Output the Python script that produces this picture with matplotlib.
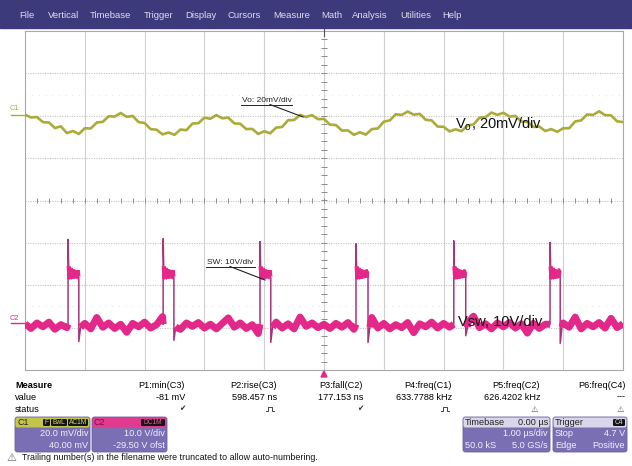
import numpy as np
import matplotlib
matplotlib.use('Agg')
import matplotlib.pyplot as plt
from matplotlib.patches import Rectangle, FancyBboxPatch, Polygon

plt.rcParams['font.family'] = ['Liberation Sans', 'DejaVu Sans']
plt.rcParams['mathtext.fontset'] = 'custom'
plt.rcParams['mathtext.rm'] = 'Liberation Sans'

W, H = 632, 466

# menu bar
menu_items = ['File', 'Vertical', 'Timebase', 'Trigger', 'Display', 'Cursors',
              'Measure', 'Math', 'Analysis', 'Utilities', 'Help']
menu_x = [19, 48, 90, 144, 185, 228, 273, 321, 352, 400, 442]

# sample times, us (1 us/div, 10 div)
t_us = np.round(np.arange(-5.0, 5.05, 0.1), 2)

# C1: output ripple Vo, mV relative to the C1 marker
vo_mv = [0.5, -0.8, -0.6, -3.0, -3.2, -5.8, -5.0, -8.2, -7.2,
         -8.6, -5.9, -6.0, -3.2, -2.9, -0.2, -0.4, 1.3,
         -0.5, -0.1, -3.0, -3.4, -6.3, -6.6, -8.8, -7.9,
         -9.0, -6.5, -6.8, -3.7, -3.5, -0.9, -1.4, 0.3,
         -1.2, -0.9, -3.6, -3.8, -6.3, -6.2, -8.6, -7.3,
         -8.3, -5.6, -5.3, -2.1, -2.0, 0.4, -0.6,
         0.3, -1.6, -1.5, -4.2, -4.4, -7.0, -6.9, -9.0, -7.8,
         -8.9, -6.3, -6.0, -2.8, -2.2, 0.7, 0.4, 2.0,
         0.5, 0.9, -1.9, -2.2, -5.1, -5.2, -7.4, -6.4,
         -7.3, -4.6, -4.1, -0.9, -0.7, 1.5, 0.4,
         1.4, -0.4, -0.1, -2.7, -2.8, -5.3, -5.1, -7.2, -6.3, -7.6,
         -5.9, -5.9, -2.7, -2.2, 0.6, 0.4, 2.1,
         0.3, 0.2, -2.6, -3.0]
vo_ref_div = 2.0
vo_mv_div = 20.0

# C2: switch node, volts
sw_base_v = [0.4, -0.7, 0.6, -0.3, 0.8, -0.9, 0.2, -0.5, 0.7, -0.2,
             0.5, -0.8, 1.9, -0.4, 0.6, -0.7, 0.3, -1.6, 0.5, -0.3,
             0.8, -0.6, 0.2, 2.1, -0.5, 0.4, -0.9, 0.6, -0.2, 0.7,
             -0.6, 0.3, -0.8, 0.5, 1.8, -0.4, 0.6, -0.7, 0.2, -1.9,
             0.5, -0.3, 0.8, -0.6, 0.4, -0.8, 2.0, -0.2, 0.6, -0.5,
             0.3, -0.7, 0.5, -0.4, 0.7, -0.9, 0.4, -0.3, 1.9, -0.6,
             0.5, -0.8, 0.2, -0.5, 0.7, -1.7, 0.4, -0.3, 0.8, -0.6,
             0.5, -0.4, 0.3, -0.7, 0.6, 2.2, -0.5, 0.4, -0.8, 0.6,
             -0.3, 0.7, -0.6, 0.4, -1.8, 0.5, -0.7, 0.3, 0.8, -0.5,
             0.6, -0.4, 2.0, -0.8, 0.5, -0.3, 0.7, -0.6, 1.7, -0.5,
             0.4]
sw_rise_us = [-4.28, -2.69, -1.07, 0.535, 2.17, 3.78]
sw_fall_us = [-4.10, -2.51, -0.89, 0.736, 2.37, 3.95]
sw_spike_v = [20.3, 20.5, 19.8, 19.3, 20.0, 19.6]
sw_under_v = [-3.8, -3.5, -4.0, -4.0, -2.4, -4.2]
ring_dt_us = [0.01, 0.025, 0.04, 0.055, 0.07, 0.085, 0.1, 0.115, 0.13, 0.145, 0.16, 0.175, 0.19]
ring_v = [14.0, 11.0, 13.6, 11.0, 13.2, 11.2, 13.1, 11.2, 13.0, 11.3, 13.0, 11.4, 12.8]
sw_ref_div = -2.95
sw_v_div = 10.0

# measurement table
meas_names = ['P1:min(C3)', 'P2:rise(C3)', 'P3:fall(C2)', 'P4:freq(C1)',
              'P5:freq(C2)', 'P6:freq(C4)']
meas_values = ['-81 mV', '598.457 ns', '177.153 ns', '633.7788 kHz',
               '626.4202 kHz', '---']
meas_status = ['check', 'pulse', 'check', 'pulse', 'warn', 'warn']
meas_right = [185, 277, 363, 452, 540, 626]

YEL = '#abab38'
PINK = '#e3288a'
EDGE = '#a8357a'
BOX = '#7b6fb4'

fig = plt.figure(figsize=(W / 100, H / 100), dpi=100, facecolor='white')

# ---- scope screen ----
ax = fig.add_axes([25 / W, (H - 370) / H, 598 / W, 339 / H], zorder=1)
ax.set_xlim(-5, 5)
ax.set_ylim(-4, 4)
ax.set_xticks([])
ax.set_yticks([])
for s in ax.spines.values():
    s.set_color('#a8a8a8')
    s.set_linewidth(0.8)
for x in range(-4, 5):
    ax.axvline(x, color='#d0d0d0', lw=0.8, zorder=0)
for y in range(-3, 4):
    ax.axhline(y, color='#c4c4c4', lw=0.8, ls=(0, (1, 1.2)), zorder=0)
for y in (2.5, -2.5):
    ax.axhline(y, color='#e6e6e6', lw=0.8, ls=(0, (1, 5)), zorder=0)
ax.vlines(np.arange(-5, 5.01, 0.2), -0.05, 0.05, color='#8c8c8c', lw=0.7, zorder=0)
ax.hlines(np.arange(-4, 4.01, 0.2), -0.05, 0.05, color='#8c8c8c', lw=0.7, zorder=0)

# C1 trace
ax.plot(t_us, vo_ref_div + np.array(vo_mv) / vo_mv_div, color=YEL, lw=1.9,
        zorder=3, solid_joinstyle='round')

# C2 trace: baseline samples with the pulses put in between
full_t, full_v, base_t, base_v, plat_t, plat_v = [], [], [], [], [], []
k = 0
for tb, vb in zip(t_us, sw_base_v):
    while k < len(sw_rise_us) and tb > sw_rise_us[k]:
        r, f = sw_rise_us[k], sw_fall_us[k]
        rt = [r + d for d in ring_dt_us if r + d < f]
        rv = ring_v[:len(rt)]
        full_t += [r, r] + rt + [f, f, f + 0.03]
        full_v += [0.3, sw_spike_v[k]] + rv + [rv[-1], sw_under_v[k], -0.4]
        base_t += [r, np.nan, f + 0.03]
        base_v += [0.3, np.nan, -0.4]
        plat_t += rt + [f, np.nan]
        plat_v += rv + [rv[-1], np.nan]
        k += 1
    if k > 0 and tb < sw_fall_us[k - 1] + 0.03:
        continue
    full_t.append(tb)
    full_v.append(vb)
    base_t.append(tb)
    base_v.append(vb)

ax.plot(full_t, sw_ref_div + np.array(full_v) / sw_v_div, color=EDGE, lw=1.1, zorder=3)
ax.plot(base_t, sw_ref_div + np.array(base_v) / sw_v_div, color=PINK, lw=5.0, zorder=4,
        solid_joinstyle='round', solid_capstyle='butt')
ax.plot(plat_t, sw_ref_div + np.array(plat_v) / sw_v_div, color=PINK, lw=3.0, zorder=4,
        solid_joinstyle='miter', solid_capstyle='butt')

# ---- everything else in pixel coordinates ----
px = fig.add_axes([0, 0, 1, 1], zorder=2)
px.set_xlim(0, W)
px.set_ylim(H, 0)
px.axis('off')
px.patch.set_alpha(0)

px.add_patch(Rectangle((0, 0), W, 28, color='#3c3a7a'))
for name, x in zip(menu_items, menu_x):
    px.text(x, 15, name, color='#dedcf2', fontsize=6.8, va='center')

# trigger position markers
px.plot([324, 324], [29, 36], color='#555555', lw=0.8)
px.add_patch(Polygon([(321, 377), (327, 377), (324, 371)], color=PINK))

# channel markers on the left
px.text(10, 109, 'C1', color=YEL, fontsize=5.3, va='center')
px.plot([11, 25], [115, 115], color=YEL, lw=1.0)
px.text(10, 318, 'C2', color=PINK, fontsize=5.3, va='center')
px.plot([11, 25], [323, 323], color=PINK, lw=1.0)

# small labels with leader lines
px.text(242, 100, 'Vo: 20mV/div', fontsize=6, color='#222222', va='center')
px.plot([241, 292], [104.5, 104.5], color='#222222', lw=0.7)
px.plot([270, 303], [104.5, 117], color='#222222', lw=0.8)
px.text(207, 262, 'SW: 10V/div', fontsize=6, color='#222222', va='center')
px.plot([206, 255], [266.5, 266.5], color='#222222', lw=0.7)
px.plot([230, 265], [266.5, 280], color='#222222', lw=0.8)

# large labels
px.text(455, 124, r'V$_{\rm o}$, 20mV/div', fontsize=10.5, color='#111111', va='center')
px.text(458, 322, 'Vsw, 10V/div', fontsize=10.5, color='#111111', va='center')

# measure table
px.text(15, 385, 'Measure', fontsize=6.6, fontweight='bold', va='center')
px.text(15, 397, 'value', fontsize=6.6, va='center')
px.text(15, 409, 'status', fontsize=6.6, va='center')
for name, val, st, r in zip(meas_names, meas_values, meas_status, meas_right):
    px.text(r, 385, name, fontsize=6.6, ha='right', va='center')
    px.text(r, 397, val, fontsize=6.6, ha='right', va='center')
    if st == 'check':
        px.text(r - 3, 409, '\u2714', fontsize=5.5, ha='center', va='center',
                family='DejaVu Sans', color='#333333')
    elif st == 'pulse':
        px.plot([r - 11, r - 9, r - 9, r - 5, r - 5, r - 3],
                [411, 411, 406.5, 406.5, 411, 411], color='#444444', lw=0.7)
    else:
        px.text(r - 6, 409, '\u26a0', fontsize=6, ha='center', va='center',
                family='DejaVu Sans', color='#555555')


def box(x0, x1, head_color):
    px.add_patch(FancyBboxPatch((x0, 417), x1 - x0, 35, boxstyle='round,pad=0,rounding_size=2.5',
                                fc=BOX, ec='#6a5fa0', lw=0.6))
    px.add_patch(FancyBboxPatch((x0 + 0.5, 417.5), x1 - x0 - 1, 10, boxstyle='round,pad=0,rounding_size=2',
                                fc=head_color, ec='none'))


def badge(x0, x1, text, fc, tc):
    px.add_patch(FancyBboxPatch((x0, 419), x1 - x0, 7, boxstyle='round,pad=0,rounding_size=1.2',
                                fc=fc, ec='none'))
    px.text((x0 + x1) / 2, 422.7, text, fontsize=4.8, color=tc, ha='center', va='center')


# C1 box
box(15, 90, '#c4c44a')
px.text(17, 422.5, 'C1', fontsize=6.4, va='center', color='#222222')
badge(43, 50, 'F', '#151515', '#d8d860')
badge(51, 67, 'BwL', '#151515', '#d8d860')
badge(68, 88, 'AC1M', '#151515', '#d8d860')
px.text(88, 434, '20.0 mV/div', fontsize=6.6, ha='right', va='center', color='#f1eff9')
px.text(88, 446, '40.00 mV', fontsize=6.6, ha='right', va='center', color='#f1eff9')

# C2 box
box(92, 167, '#e23a8e')
px.text(94, 422.5, 'C2', fontsize=6.4, va='center', color='#7a1040')
badge(141, 165, 'DC1M', '#151515', '#f05aa0')
px.text(165, 434, '10.0 V/div', fontsize=6.6, ha='right', va='center', color='#f1eff9')
px.text(165, 446, '-29.50 V ofst', fontsize=6.6, ha='right', va='center', color='#f1eff9')

# Timebase box
box(463, 550, '#d9d6ea')
px.text(465, 422.5, 'Timebase', fontsize=6.6, va='center', color='#222222')
px.text(548, 422.5, '0.00 \u00b5s', fontsize=6.6, ha='right', va='center', color='#222222')
px.text(548, 434, '1.00 \u00b5s/div', fontsize=6.6, ha='right', va='center', color='#f1eff9')
px.text(465, 446, '50.0 kS', fontsize=6.6, va='center', color='#f1eff9')
px.text(548, 446, '5.0 GS/s', fontsize=6.6, ha='right', va='center', color='#f1eff9')

# Trigger box
box(553, 627, '#d9d6ea')
px.text(555, 422.5, 'Trigger', fontsize=6.6, va='center', color='#222222')
badge(613, 625, 'C4', '#151515', '#dddddd')
px.text(555, 434, 'Stop', fontsize=6.6, va='center', color='#f1eff9')
px.text(625, 434, '4.7 V', fontsize=6.6, ha='right', va='center', color='#f1eff9')
px.text(555, 446, 'Edge', fontsize=6.6, va='center', color='#f1eff9')
px.text(625, 446, 'Positive', fontsize=6.6, ha='right', va='center', color='#f1eff9')

# warning line
px.text(11, 458, '\u26a0', fontsize=8, ha='center', va='center', family='DejaVu Sans',
        color='#666666')
px.text(22, 458, 'Trailing number(s) in the filename were truncated to allow auto-numbering.',
        fontsize=6.4, va='center', color='#111111')

fig.savefig('out.png', dpi=100, facecolor='white')
